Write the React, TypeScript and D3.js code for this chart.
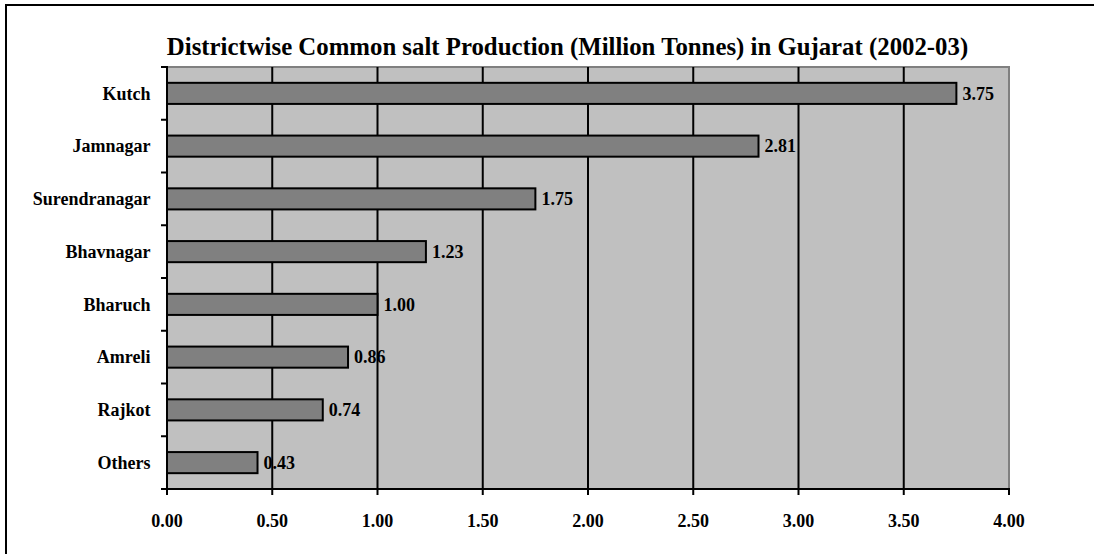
import React from "react";
import * as d3 from "d3";

const categories = ["Kutch", "Jamnagar", "Surendranagar", "Bhavnagar", "Bharuch", "Amreli", "Rajkot", "Others"];
const values = [3.75, 2.81, 1.75, 1.23, 1.0, 0.86, 0.74, 0.43];
const xTicks = [0, 0.5, 1, 1.5, 2, 2.5, 3, 3.5, 4];
const title = "Districtwise Common salt Production (Million Tonnes) in Gujarat (2002-03)";

const W = 1094, H = 554;
const left = 167, right = 1009, top = 67, bottom = 489;
const FONT = "'Liberation Serif', 'Times New Roman', serif";

export default function App() {
  const x = d3.scaleLinear().domain([0, 4]).range([left, right]);
  const y = d3.scaleBand<string>().domain(categories).range([top, bottom]).paddingInner(0.6).paddingOuter(0.3);
  const band = (bottom - top) / categories.length;
  const boundaries = d3.range(categories.length + 1).map((i) => top + i * band);
  return (
    <svg width={W} height={H} style={{ position: "absolute", left: 0, top: 0, background: "#fff" }}>
      <rect x={6} y={5} width={W + 20} height={H + 20} fill="#fff" stroke="#000" strokeWidth={2} />
      <text x={567.5} y={55} textAnchor="middle" fontFamily={FONT} fontWeight="bold" fontSize={24.8}>
        {title}
      </text>
      <rect x={left} y={top} width={right - left} height={bottom - top} fill="#c0c0c0" stroke="#808080" strokeWidth={2} />
      {xTicks.slice(1, -1).map((t) => (
        <line key={t} x1={x(t)} x2={x(t)} y1={top} y2={bottom} stroke="#000" strokeWidth={2} />
      ))}
      {categories.map((c, i) => (
        <g key={c}>
          <rect x={x(0)} y={y(c)!} width={x(values[i]) - x(0)} height={y.bandwidth()} fill="#808080" stroke="#000" strokeWidth={2} />
          <text x={x(values[i]) + 6} y={y(c)! + y.bandwidth() / 2} dy="0.35em" fontFamily={FONT} fontWeight="bold" fontSize={18}>
            {values[i].toFixed(2)}
          </text>
          <text x={150.5} y={y(c)! + y.bandwidth() / 2} dy="0.35em" textAnchor="end" fontFamily={FONT} fontWeight="bold" fontSize={18}>
            {c}
          </text>
        </g>
      ))}
      <line x1={left} x2={left} y1={top - 1} y2={bottom} stroke="#000" strokeWidth={2} />
      <line x1={left - 6} x2={right + 1} y1={bottom} y2={bottom} stroke="#000" strokeWidth={2} />
      {boundaries.map((b, i) => (
        <line key={i} x1={left - 6} x2={left} y1={b} y2={b} stroke="#000" strokeWidth={2} />
      ))}
      {xTicks.map((t) => (
        <g key={t}>
          <line x1={x(t)} x2={x(t)} y1={bottom} y2={bottom + 6} stroke="#000" strokeWidth={2} />
          <text x={x(t)} y={527} textAnchor="middle" fontFamily={FONT} fontWeight="bold" fontSize={18}>
            {t.toFixed(2)}
          </text>
        </g>
      ))}
    </svg>
  );
}
